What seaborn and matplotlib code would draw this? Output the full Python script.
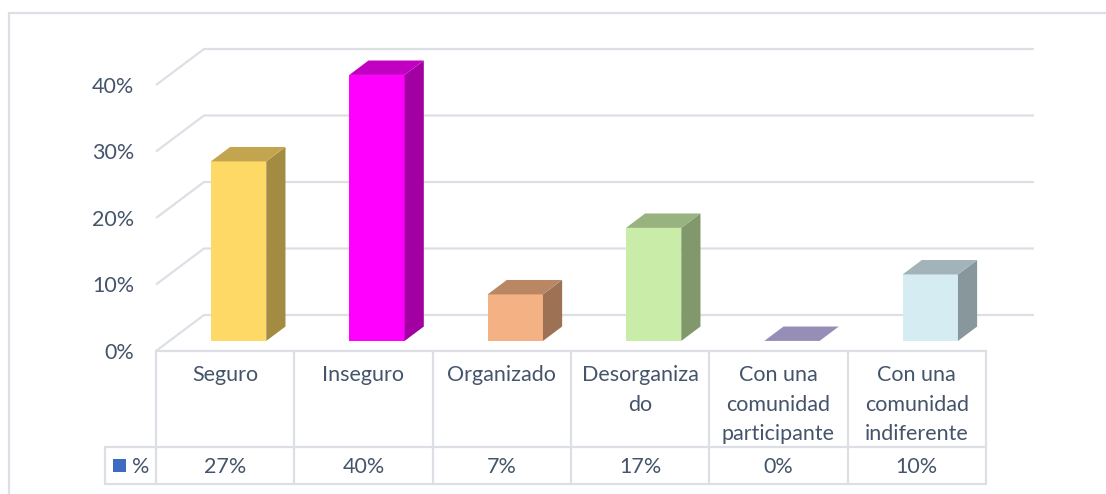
import numpy as np
import matplotlib
matplotlib.use("Agg")
import matplotlib.pyplot as plt
from matplotlib.patches import Polygon, Rectangle
from matplotlib.transforms import Affine2D, blended_transform_factory
from matplotlib.colors import to_rgb
import seaborn as sns

# Data
categorias = ["Seguro", "Inseguro", "Organizado", "Desorganizado",
              "Con una comunidad participante", "Con una comunidad indiferente"]
etiquetas = ["Seguro", "Inseguro", "Organizado", "Desorganiza\ndo",
             "Con una\ncomunidad\nparticipante", "Con una\ncomunidad\nindiferente"]
valores = [27, 40, 7, 17, 0, 10]
textos_valor = ["27%", "40%", "7%", "17%", "0%", "10%"]
ticks = [0, 10, 20, 30, 40]
tick_labels = ["0%", "10%", "20%", "30%", "40%"]
colores = ["#FFD966", "#FF00FF", "#F4B183", "#C9ECA9", "#C6BBF0", "#D5ECF3"]

sns.set_theme(style="white")
plt.rcParams["font.family"] = ["Lato", "DejaVu Sans"]

W, H = 1106, 494
fig = plt.figure(figsize=(W / 100, H / 100), dpi=100)
fig.patch.set_facecolor("white")

TXT = "#44546A"
GRID = "#DCE0E6"
FS = 15.5

# plot area (front plane), pixel geometry
left_px, right_px = 156, 986
floor_px = 351
ymax = 46
py = 6.65                       # pixels per percent
top_px = floor_px - ymax * py
ax = fig.add_axes([left_px / W, (H - floor_px) / H,
                   (right_px - left_px) / W, (floor_px - top_px) / H])

px = (right_px - left_px) / 6.0  # pixels per category unit
depth_px = (48, 36)
Dx, Dy = depth_px[0] / px, depth_px[1] / py

# bars: front faces via seaborn, placed at mid depth
f0, f1 = 0.28, 0.68
sns.barplot(x=categorias, y=valores, hue=categorias, palette=colores,
            legend=False, width=0.4, linewidth=0, saturation=1, ax=ax,
            zorder=3)
ax.set_xlim(-0.5, 5.5)
ax.set_ylim(0, ymax)
ax.axis("off")

# walls: gridlines on side wall and back wall
for v, lab in zip(ticks, tick_labels):
    ax.plot([-0.5, -0.5 + Dx, 5.5 + Dx], [v, v + Dy, v + Dy],
            color=GRID, lw=1.6, clip_on=False, zorder=1,
            solid_capstyle="butt")
    ax.text(-0.5 - 22 / px, v - 0.3, lab,
            ha="right", va="center", fontsize=FS, color=TXT)

shift = Affine2D().translate(f0 * Dx, f0 * Dy)
bx, by = (f1 - f0) * Dx, (f1 - f0) * Dy
for patch, col in zip(ax.patches, colores):
    x0 = patch.get_x()
    w = patch.get_width()
    h = patch.get_height()
    patch.set_transform(shift + ax.transData)
    patch.set_zorder(4)
    ox, oy = f0 * Dx, f0 * Dy
    rgb = np.array(to_rgb(col))
    side = Polygon([(x0 + w + ox, oy), (x0 + w + ox + bx, oy + by),
                    (x0 + w + ox + bx, h + oy + by), (x0 + w + ox, h + oy)],
                   closed=True, facecolor=rgb * 0.64, edgecolor="none",
                   zorder=4)
    top = Polygon([(x0 + ox, h + oy), (x0 + w + ox, h + oy),
                   (x0 + w + ox + bx, h + oy + by), (x0 + ox + bx, h + oy + by)],
                  closed=True, facecolor=rgb * 0.76, edgecolor="none",
                  zorder=4)
    if h > 0:
        ax.add_patch(side)
    ax.add_patch(top)

# data table below the plot area
def fy(p):
    return (H - p) / H

tr = blended_transform_factory(ax.transData, fig.transFigure)
trp = fig.transFigure
row1, row2, row3 = floor_px, 447, 484
lw_t = 1.6
# horizontal lines
ax.plot([-0.5, 5.5], [fy(row1)] * 2, color=GRID, lw=lw_t, transform=tr, clip_on=False)
for r in (row2, row3):
    fig.add_artist(plt.Line2D([105 / W, right_px / W], [fy(r)] * 2,
                              color=GRID, lw=lw_t, transform=trp))
# vertical lines
for i in range(7):
    xb = -0.5 + i
    ax.plot([xb, xb], [fy(row1), fy(row3)], color=GRID, lw=lw_t,
            transform=tr, clip_on=False)
fig.add_artist(plt.Line2D([105 / W, 105 / W], [fy(row2), fy(row3)],
                          color=GRID, lw=lw_t, transform=trp))

for i, (lab, val) in enumerate(zip(etiquetas, textos_valor)):
    ax.text(i, fy(row1 + 14), lab, ha="center", va="top", fontsize=FS,
            color=TXT, linespacing=1.6, transform=tr)
    ax.text(i, fy((row2 + row3) / 2 + 1), val, ha="center", va="center",
            fontsize=FS, color=TXT, transform=tr)

# legend key in the table
fig.add_artist(Rectangle((113 / W, fy(472)), 13 / W, 13 / H,
                         facecolor="#3E6BC2", edgecolor="none",
                         transform=trp))
fig.text(132 / W, fy((row2 + row3) / 2 + 1), "%", ha="left", va="center",
         fontsize=FS, color=TXT)

# chart border
fig.add_artist(Rectangle((9 / W, fy(H + 10)), (W + 10) / W, (H + 10 - 13) / H,
                         facecolor="none", edgecolor=GRID, lw=1.6,
                         transform=trp))

fig.savefig("out.png", dpi=100, facecolor="white")
